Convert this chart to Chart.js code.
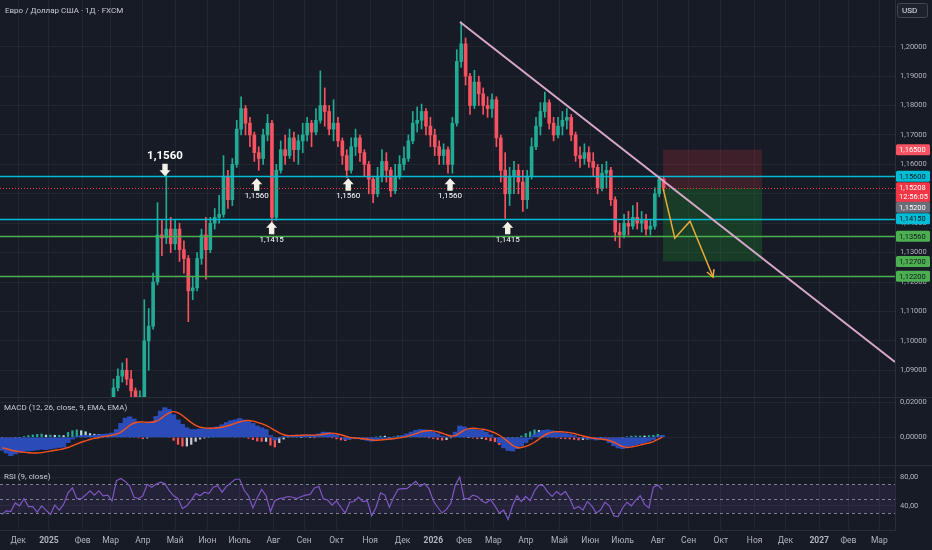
<!DOCTYPE html>
<html lang="ru">
<head>
<meta charset="utf-8">
<title>EUR/USD 1D</title>
<script src="https://cdn.jsdelivr.net/npm/chart.js@4.4.1/dist/chart.umd.min.js"></script>
<style>
html,body{margin:0;padding:0;width:932px;height:550px;overflow:hidden;background:#171b26}
canvas{position:absolute;left:0;display:block}
.sep{position:absolute;left:0;width:932px;height:1px;background:#2a2e39}
</style>
</head>
<body>
<canvas id="mainPane" width="932" height="397" style="top:0"></canvas>
<div class="sep" style="top:397px"></div>
<canvas id="macdPane" width="932" height="67" style="top:398px"></canvas>
<div class="sep" style="top:465px"></div>
<canvas id="rsiPane" width="932" height="84" style="top:466px"></canvas>
<script>
// ================= DATA =================
// candles: one candle every 3 trading days, first at trading-day 76
const firstCandleDay = 76;
const candleStep = 3;
const firstOpen = 1.0810;
const candleClose = [
 1.0840,1.0880,1.0900,1.0870,1.0830,1.0800,1.0810,1.1000,1.1050,1.1200,
 1.1360,1.1350,1.1380,1.1330,1.1380,1.1310,1.1280,1.1170,1.1180,1.1280,
 1.1360,1.1310,1.1400,1.1420,1.1430,1.1560,1.1480,1.1600,1.1720,1.1790,
 1.1740,1.1700,1.1640,1.1620,1.1700,1.1740,1.1420,1.1580,1.1650,1.1630,
 1.1690,1.1650,1.1680,1.1700,1.1740,1.1710,1.1750,1.1800,1.1780,1.1720,
 1.1740,1.1680,1.1630,1.1580,1.1660,1.1690,1.1640,1.1600,1.1550,1.1500,
 1.1560,1.1610,1.1580,1.1510,1.1560,1.1600,1.1620,1.1680,1.1740,1.1750,
 1.1780,1.1730,1.1700,1.1660,1.1630,1.1650,1.1600,1.1740,1.1950,1.2010,
 1.1900,1.1800,1.1880,1.1840,1.1800,1.1790,1.1820,1.1690,1.1580,1.1500,
 1.1560,1.1580,1.1540,1.1480,1.1560,1.1660,1.1730,1.1780,1.1810,1.1740,
 1.1700,1.1730,1.1750,1.1760,1.1700,1.1630,1.1620,1.1640,1.1610,1.1590,
 1.1520,1.1570,1.1580,1.1480,1.1370,1.1360,1.1400,1.1390,1.1420,1.1400,
 1.1410,1.1380,1.1390,1.1500,1.1550,1.15208];
const candleHigh = [
 1.0870,1.0905,1.0925,1.0940,1.0900,1.0840,1.0830,1.1140,1.1110,1.1230,
 1.1470,1.1410,1.1573,1.1420,1.1410,1.1400,1.1340,1.1290,1.1220,1.1300,
 1.1380,1.1420,1.1420,1.1450,1.1495,1.1630,1.1580,1.1620,1.1750,1.1830,
 1.1800,1.1760,1.1710,1.1660,1.1720,1.1770,1.1750,1.1600,1.1680,1.1700,
 1.1720,1.1710,1.1700,1.1740,1.1760,1.1750,1.1790,1.1918,1.1860,1.1800,
 1.1820,1.1760,1.1690,1.1650,1.1690,1.1720,1.1700,1.1650,1.1610,1.1560,
 1.1590,1.1650,1.1640,1.1590,1.1600,1.1630,1.1660,1.1700,1.1780,1.1795,
 1.1805,1.1790,1.1760,1.1720,1.1680,1.1670,1.1660,1.1760,1.1990,1.2085,
 1.2030,1.1910,1.1920,1.1900,1.1860,1.1830,1.1840,1.1830,1.1700,1.1640,
 1.1590,1.1610,1.1600,1.1580,1.1580,1.1690,1.1760,1.1810,1.1846,1.1820,
 1.1760,1.1760,1.1780,1.1790,1.1770,1.1710,1.1660,1.1670,1.1660,1.1640,
 1.1600,1.1600,1.1610,1.1590,1.1490,1.1400,1.1430,1.1440,1.1460,1.1470,
 1.1440,1.1430,1.1410,1.1520,1.1560,1.1560];
const candleLow = [
 1.0805,1.0830,1.0860,1.0850,1.0810,1.0780,1.0770,1.0800,1.0900,1.1040,
 1.1190,1.1290,1.1330,1.1300,1.1310,1.1270,1.1230,1.1065,1.1140,1.1170,
 1.1260,1.1210,1.1300,1.1380,1.1400,1.1420,1.1450,1.1460,1.1590,1.1700,
 1.1700,1.1660,1.1610,1.1580,1.1600,1.1680,1.1400,1.1410,1.1570,1.1600,
 1.1620,1.1610,1.1600,1.1640,1.1680,1.1660,1.1700,1.1740,1.1730,1.1700,
 1.1680,1.1660,1.1600,1.1555,1.1570,1.1630,1.1610,1.1560,1.1500,1.1470,
 1.1490,1.1540,1.1540,1.1490,1.1500,1.1550,1.1580,1.1610,1.1670,1.1710,
 1.1720,1.1700,1.1660,1.1630,1.1600,1.1600,1.1570,1.1570,1.1730,1.1930,
 1.1870,1.1770,1.1790,1.1800,1.1770,1.1760,1.1760,1.1660,1.1540,1.1416,
 1.1460,1.1500,1.1500,1.1440,1.1450,1.1550,1.1650,1.1700,1.1760,1.1720,
 1.1680,1.1690,1.1700,1.1720,1.1680,1.1610,1.1590,1.1600,1.1590,1.1560,
 1.1500,1.1510,1.1520,1.1460,1.1340,1.1317,1.1350,1.1360,1.1380,1.1380,
 1.1370,1.1360,1.1360,1.1380,1.1490,1.1510];

// indicators: one value every 3 trading days from trading-day 0
const indicatorFirstDay = 0;
const indicatorStep = 3;
const macdLine = [
 -0.0075,-0.0090,-0.0105,-0.0095,-0.0085,-0.0080,-0.0078,-0.0075,-0.0072,-0.0068,
 -0.0070,-0.0066,-0.0062,-0.0058,-0.0055,-0.0030,-0.0010,0.0005,0.0010,0.0012,
 0.0010,0.0012,0.0015,0.0018,0.0020,0.0025,0.0045,0.0080,0.0110,0.0118,
 0.0105,0.0085,0.0080,0.0082,0.0090,0.0120,0.0150,0.0170,0.0160,0.0130,
 0.0100,0.0075,0.0055,0.0045,0.0045,0.0048,0.0050,0.0052,0.0055,0.0060,
 0.0072,0.0085,0.0095,0.0100,0.0108,0.0100,0.0090,0.0080,0.0065,0.0055,
 0.0045,0.0010,-0.0015,-0.0005,0.0005,0.0010,0.0012,0.0013,0.0012,0.0015,
 0.0013,0.0012,0.0020,0.0030,0.0028,0.0022,0.0012,0.0000,-0.0012,-0.0010,
 -0.0005,-0.0008,-0.0012,-0.0018,-0.0022,-0.0015,-0.0008,-0.0005,-0.0010,-0.0005,
 0.0005,0.0010,0.0020,0.0030,0.0040,0.0045,0.0043,0.0038,0.0030,0.0020,
 0.0008,0.0002,0.0005,0.0030,0.0065,0.0060,0.0050,0.0048,0.0042,0.0040,
 0.0030,0.0015,0.0000,-0.0030,-0.0060,-0.0075,-0.0078,-0.0065,-0.0050,-0.0030,
 -0.0010,0.0015,0.0030,0.0040,0.0043,0.0038,0.0030,0.0025,0.0022,0.0018,
 0.0010,0.0000,-0.0005,-0.0008,-0.0010,-0.0015,-0.0012,-0.0015,-0.0030,-0.0048,
 -0.0060,-0.0065,-0.0055,-0.0048,-0.0042,-0.0036,-0.0030,-0.0022,-0.0012,0.0005,
 0.0012];
const macdSignal = [
 -0.0060,-0.0065,-0.0072,-0.0078,-0.0082,-0.0085,-0.0088,-0.0089,-0.0089,-0.0087,
 -0.0083,-0.0079,-0.0074,-0.0070,-0.0065,-0.0058,-0.0048,-0.0038,-0.0028,-0.0020,
 -0.0012,-0.0006,-0.0002,0.0004,0.0008,0.0012,0.0018,0.0030,0.0048,0.0068,
 0.0082,0.0088,0.0088,0.0086,0.0086,0.0092,0.0105,0.0125,0.0140,0.0147,
 0.0140,0.0125,0.0105,0.0085,0.0068,0.0058,0.0054,0.0052,0.0053,0.0055,
 0.0058,0.0064,0.0072,0.0080,0.0088,0.0094,0.0096,0.0093,0.0086,0.0078,
 0.0068,0.0055,0.0040,0.0025,0.0015,0.0010,0.0010,0.0011,0.0012,0.0013,
 0.0013,0.0013,0.0014,0.0018,0.0022,0.0024,0.0021,0.0015,0.0007,0.0000,
 -0.0004,-0.0006,-0.0008,-0.0011,-0.0015,-0.0017,-0.0015,-0.0012,-0.0010,-0.0008,
 -0.0004,0.0000,0.0006,0.0013,0.0021,0.0030,0.0036,0.0039,0.0037,0.0032,
 0.0024,0.0015,0.0008,0.0010,0.0025,0.0040,0.0050,0.0052,0.0050,0.0047,
 0.0043,0.0035,0.0025,0.0012,-0.0005,-0.0025,-0.0045,-0.0058,-0.0058,-0.0052,
 -0.0042,-0.0028,-0.0010,0.0008,0.0022,0.0030,0.0033,0.0032,0.0030,0.0027,
 0.0022,0.0015,0.0008,0.0002,-0.0003,-0.0007,-0.0010,-0.0012,-0.0018,-0.0028,
 -0.0040,-0.0052,-0.0058,-0.0055,-0.0050,-0.0044,-0.0038,-0.0032,-0.0024,-0.0012,
 0.0002];
const rsiValues = [
 28,33,32,44,40,50,39,39,31,40,
 34,28,41,34,42,58,65,50,50,55,
 61,55,61,54,55,47,75,78,74,68,
 52,50,54,70,66,70,73,71,61,54,
 50,36,40,48,57,54,59,57,66,68,
 59,67,72,77,77,62,54,37,51,63,
 54,32,47,50,51,53,52,50,53,55,
 56,65,67,50,48,41,47,38,30,45,
 46,52,46,47,26,38,58,55,38,52,
 63,64,64,69,74,67,71,64,47,38,
 30,35,44,69,80,50,50,55,53,47,
 44,49,40,30,34,21,40,54,46,53,
 47,61,69,68,59,53,60,55,60,50,
 36,39,34,46,40,30,34,45,40,26,
 25,37,45,40,48,54,42,37,66,69,
 63];

// time axis (trading-day index of each month start)
const monthTickDays = [11,32,55,74,96,118,140,162,185,206,228,251,273,294,315,335,357,380,401,423,447,468,490,513,534,557,577,598];
const monthTickLabels = ['Дек','2025','Фев','Мар','Апр','Май','Июн','Июль','Авг','Сен','Окт','Ноя','Дек','2026','Фев','Мар','Апр','Май','Июн','Июль','Авг','Сен','Окт','Ноя','Дек','2027','Фев','Мар'];
const priceTicks = [1.09,1.10,1.11,1.12,1.13,1.14,1.15,1.16,1.17,1.18,1.19,1.20];
const macdTicks = [0, 0.02];
const rsiTicks = [40, 80];
const rsiBandLevels = [30, 50, 70];

// drawings
const levelPrices = [1.1560, 1.1415, 1.1356, 1.1220];
const levelKinds = ['cyan', 'cyan', 'green', 'green'];
const lastPrice = 1.15208;
const lastPriceTime = '12:56:05';
const stopPrice = 1.1650, entryPrice = 1.1520, targetPrice = 1.1270;
const positionDays = [450.6, 518.1];
const trendDays = [312.2, 608.7];
const trendPrices = [1.2084, 1.0928];
const pathDays = [450.6, 458.6, 469.0, 484.7];
const pathPrices = [1.1519, 1.1349, 1.1407, 1.1217];
const markerDays = [111.1, 173.6, 183.8, 236.0, 305.4, 344.7];
const markerPrices = [1.1560, 1.1553, 1.1405, 1.1553, 1.1553, 1.1405];
const markerDirs = ['down', 'up', 'up', 'up', 'up', 'up'];
const markerTexts = ['1,1560', '1,1560', '1,1415', '1,1560', '1,1560', '1,1415'];
const tagPrices = [1.1650, 1.1560, 1.1415, 1.1356, 1.1270, 1.1220];
const tagKinds = ['stop', 'cyan', 'cyan', 'green', 'green', 'green'];

// ================= STYLE =================
const FONT = 'Roboto, "Noto Sans", sans-serif';
const GRID = 'rgba(42,46,57,0.6)';
const TXT = '#b2b5be';
const UP = '#22ab94', DN = '#f7525f';
const CYAN = '#00bcd4', GREEN = '#4caf50';
const X_MIN = -1.36, X_MAX = 608.7;
const fmtPrice = v => v.toFixed(5).replace('.', ',');
const fmt2 = v => v.toFixed(2).replace('.', ',');

function xScale(showLabels) {
  return {
    type: 'linear', min: X_MIN, max: X_MAX, offset: false,
    afterBuildTicks: s => { s.ticks = monthTickDays.map(v => ({ value: v })); },
    afterFit: s => { s.height = showLabels ? 20 : 0; s.paddingLeft = 0; s.paddingRight = 0; },
    grid: { color: GRID, drawTicks: false, offset: false },
    border: { display: showLabels, color: '#2a2e39' },
    ticks: {
      display: showLabels, autoSkip: false, maxRotation: 0, minRotation: 0, padding: 6, color: TXT,
      font: c => ({ family: FONT, size: 8.5, weight: /^\d{4}$/.test(monthTickLabels[c.index] || '') ? 'bold' : 'normal' }),
      callback: (v, i) => monthTickLabels[i]
    }
  };
}
function yScale(min, max, ticks, fmt) {
  return {
    type: 'linear', position: 'right', min: min, max: max,
    afterBuildTicks: s => { s.ticks = ticks.map(v => ({ value: v })); },
    afterFit: s => { s.width = 37; s.paddingTop = 0; s.paddingBottom = 0; },
    grid: { color: GRID, drawTicks: false },
    border: { display: true, color: '#2a2e39' },
    ticks: { color: TXT, padding: 5, font: { family: FONT, size: 7.5 }, callback: v => fmt(v) }
  };
}
function baseOptions(yOpts, showX) {
  return {
    responsive: false, animation: false, events: [],
    layout: { padding: 0 },
    plugins: { legend: { display: false }, tooltip: { enabled: false } },
    scales: { x: xScale(showX), y: yOpts }
  };
}
function clipArea(ctx, a) { ctx.beginPath(); ctx.rect(a.left, a.top, a.width, a.height); ctx.clip(); }
function rrect(ctx, x, y, w, h, r) {
  ctx.beginPath();
  if (ctx.roundRect) ctx.roundRect(x, y, w, h, r); else ctx.rect(x, y, w, h);
}

// ================= MAIN PANE =================
const candleDays = candleClose.map((_, i) => firstCandleDay + i * candleStep);
const candleOpen = candleClose.map((c, i) => i === 0 ? firstOpen : candleClose[i - 1]);
const candleColor = candleClose.map((c, i) => c >= candleOpen[i] ? UP : DN);

function drawMarker(ctx, px, py, dir, text) {
  const s = dir === 'up' ? 1 : -1;
  const hw = 5.5, hh = 6, sw = 2.7, sl = 6.5;
  ctx.fillStyle = '#f3f1e6';
  ctx.beginPath();
  ctx.moveTo(px, py);
  ctx.lineTo(px + hw, py + s * hh);
  ctx.lineTo(px + sw, py + s * hh);
  ctx.lineTo(px + sw, py + s * (hh + sl));
  ctx.lineTo(px - sw, py + s * (hh + sl));
  ctx.lineTo(px - sw, py + s * hh);
  ctx.lineTo(px - hw, py + s * hh);
  ctx.closePath();
  ctx.fill();
  ctx.fillStyle = '#ffffff';
  ctx.textAlign = 'center';
  ctx.textBaseline = 'middle';
  if (dir === 'up') {
    ctx.font = '8px ' + FONT;
    ctx.fillText(text, px, py + 18);
  } else {
    ctx.font = 'bold 11.5px ' + FONT;
    ctx.fillText(text, px, py - 20);
  }
}

const mainOverlay = {
  id: 'mainOverlay',
  beforeDatasetsDraw(chart) {
    const { ctx, chartArea: a, scales: { x, y } } = chart;
    ctx.save(); clipArea(ctx, a);
    const x0 = x.getPixelForValue(positionDays[0]), x1 = x.getPixelForValue(positionDays[1]);
    const ys = y.getPixelForValue(stopPrice), ye = y.getPixelForValue(entryPrice), yt = y.getPixelForValue(targetPrice);
    ctx.fillStyle = 'rgba(242,54,69,0.18)';
    ctx.fillRect(x0, ys, x1 - x0, ye - ys);
    ctx.fillStyle = 'rgba(30,140,40,0.30)';
    ctx.fillRect(x0, ye, x1 - x0, yt - ye);
    ctx.restore();
  },
  afterDatasetsDraw(chart) {
    const { ctx, chartArea: a, scales: { x, y } } = chart;
    ctx.save(); clipArea(ctx, a);
    levelPrices.forEach((p, i) => {
      const py = Math.round(y.getPixelForValue(p)) + 0.5;
      ctx.strokeStyle = levelKinds[i] === 'cyan' ? CYAN : GREEN;
      ctx.lineWidth = 1.6;
      ctx.beginPath(); ctx.moveTo(a.left, py); ctx.lineTo(a.right, py); ctx.stroke();
    });
    const lp = Math.round(y.getPixelForValue(lastPrice)) + 0.5;
    ctx.setLineDash([1, 2]); ctx.strokeStyle = '#f23645'; ctx.lineWidth = 1;
    ctx.beginPath(); ctx.moveTo(a.left, lp); ctx.lineTo(a.right, lp); ctx.stroke();
    ctx.setLineDash([]);
    ctx.strokeStyle = '#d7a8cb'; ctx.lineWidth = 2;
    ctx.beginPath();
    ctx.moveTo(x.getPixelForValue(trendDays[0]), y.getPixelForValue(trendPrices[0]));
    ctx.lineTo(x.getPixelForValue(trendDays[1]), y.getPixelForValue(trendPrices[1]));
    ctx.stroke();
    ctx.strokeStyle = '#eaa93a'; ctx.lineWidth = 1.5;
    ctx.beginPath();
    pathDays.forEach((d, i) => {
      const px = x.getPixelForValue(d), py = y.getPixelForValue(pathPrices[i]);
      if (i === 0) ctx.moveTo(px, py); else ctx.lineTo(px, py);
    });
    ctx.stroke();
    const n = pathDays.length;
    const ex = x.getPixelForValue(pathDays[n - 1]), ey = y.getPixelForValue(pathPrices[n - 1]);
    const bx = x.getPixelForValue(pathDays[n - 2]), by = y.getPixelForValue(pathPrices[n - 2]);
    const ang = Math.atan2(ey - by, ex - bx);
    ctx.beginPath();
    ctx.moveTo(ex - 8 * Math.cos(ang - 0.5), ey - 8 * Math.sin(ang - 0.5));
    ctx.lineTo(ex, ey);
    ctx.lineTo(ex - 8 * Math.cos(ang + 0.5), ey - 8 * Math.sin(ang + 0.5));
    ctx.stroke();
    markerDays.forEach((d, i) => {
      drawMarker(ctx, x.getPixelForValue(d), y.getPixelForValue(markerPrices[i]), markerDirs[i], markerTexts[i]);
    });
    ctx.restore();
  },
  afterDraw(chart) {
    const { ctx, scales: { y } } = chart;
    const ax = y.left;
    ctx.save();
    const tag = (cy, h, bg, fg, lines) => {
      ctx.fillStyle = bg;
      rrect(ctx, ax + 1, cy - h / 2, 34, h, 1.5); ctx.fill();
      ctx.fillStyle = fg; ctx.font = '7.5px ' + FONT;
      ctx.textAlign = 'left'; ctx.textBaseline = 'middle';
      lines.forEach((t, j) => ctx.fillText(t, ax + 4, cy - (lines.length - 1) * 4.5 + j * 9 + 0.5, 29));
    };
    tagPrices.forEach((p, i) => {
      const k = tagKinds[i];
      const bg = k === 'stop' ? '#f7525f' : (k === 'cyan' ? CYAN : GREEN);
      const fg = k === 'stop' ? '#ffffff' : '#131722';
      tag(y.getPixelForValue(p), 11, bg, fg, [fmtPrice(p)]);
    });
    const ly = y.getPixelForValue(lastPrice);
    tag(ly + 4.5, 20, '#f23645', '#ffffff', [fmtPrice(lastPrice), lastPriceTime]);
    tag(ly + 19.5, 11, '#6a6d78', '#ffffff', [fmtPrice(entryPrice)]);
    ctx.fillStyle = '#1e222d'; ctx.strokeStyle = '#434651'; ctx.lineWidth = 1;
    rrect(ctx, ax + 2.5, 3.5, 30, 14, 2); ctx.fill(); ctx.stroke();
    ctx.fillStyle = '#e0e3eb'; ctx.font = '8px ' + FONT; ctx.textAlign = 'left'; ctx.textBaseline = 'middle';
    ctx.fillText('USD', ax + 7, 11);
    ctx.fillStyle = '#c9ccd4'; ctx.font = '8px ' + FONT;
    ctx.fillText('Евро / Доллар США · 1Д · FXCM', 5, 10.5);
    ctx.restore();
  }
};

new Chart(document.getElementById('mainPane'), {
  type: 'bar',
  data: {
    datasets: [
      { data: candleDays.map((d, i) => ({ x: d, y: [candleLow[i], candleHigh[i]] })), backgroundColor: candleColor, barThickness: 1, grouped: false, order: 2 },
      { data: candleDays.map((d, i) => ({ x: d, y: [candleOpen[i], candleClose[i]] })), backgroundColor: candleColor, barThickness: 3, minBarLength: 1, grouped: false, order: 1 }
    ]
  },
  options: baseOptions(yScale(1.0809, 1.2159, priceTicks, fmtPrice), false),
  plugins: [mainOverlay]
});

// ================= MACD PANE =================
const indicatorDays = macdLine.map((_, i) => indicatorFirstDay + i * indicatorStep);
const macdHist = macdLine.map((m, i) => m - macdSignal[i]);
const histColor = macdHist.map((h, i) => {
  const prev = i ? macdHist[i - 1] : h;
  return h >= 0 ? (h >= prev ? '#26a69a' : '#b2dfdb') : (h < prev ? '#ff5252' : '#c9c9d0');
});
const macdTitle = {
  id: 'macdTitle',
  afterDraw(chart) {
    const { ctx } = chart;
    ctx.save(); ctx.fillStyle = '#c9ccd4'; ctx.font = '8px ' + FONT; ctx.textBaseline = 'middle'; ctx.textAlign = 'left';
    ctx.fillText('MACD (12, 26, close, 9, EMA, EMA)', 4, 10);
    ctx.restore();
  }
};
new Chart(document.getElementById('macdPane'), {
  type: 'bar',
  data: {
    datasets: [
      { type: 'line', data: indicatorDays.map((d, i) => ({ x: d, y: macdSignal[i] })), borderColor: '#f4511e', borderWidth: 1.4, pointRadius: 0, tension: 0.3, order: 0 },
      { data: indicatorDays.map((d, i) => ({ x: d, y: macdLine[i] })), backgroundColor: '#2b4cb8', barThickness: 4.5, grouped: false, order: 1 },
      { data: indicatorDays.map((d, i) => ({ x: d, y: macdHist[i] })), backgroundColor: histColor, barThickness: 1.6, grouped: false, order: 2 }
    ]
  },
  options: baseOptions(yScale(-0.0158, 0.0225, macdTicks, fmtPrice), false),
  plugins: [macdTitle]
});

// ================= RSI PANE =================
const rsiOverlay = {
  id: 'rsiOverlay',
  beforeDatasetsDraw(chart) {
    const { ctx, chartArea: a, scales: { y } } = chart;
    ctx.save(); clipArea(ctx, a);
    const yTop = y.getPixelForValue(rsiBandLevels[2]), yBot = y.getPixelForValue(rsiBandLevels[0]);
    ctx.fillStyle = 'rgba(126,87,194,0.12)';
    ctx.fillRect(a.left, yTop, a.width, yBot - yTop);
    ctx.strokeStyle = 'rgba(150,153,163,0.8)'; ctx.lineWidth = 1; ctx.setLineDash([3, 3]);
    rsiBandLevels.forEach(v => {
      const py = Math.round(y.getPixelForValue(v)) + 0.5;
      ctx.beginPath(); ctx.moveTo(a.left, py); ctx.lineTo(a.right, py); ctx.stroke();
    });
    ctx.restore();
  },
  afterDraw(chart) {
    const { ctx } = chart;
    ctx.save(); ctx.fillStyle = '#c9ccd4'; ctx.font = '8px ' + FONT; ctx.textBaseline = 'middle'; ctx.textAlign = 'left';
    ctx.fillText('RSI (9, close)', 4, 11);
    ctx.restore();
  }
};
new Chart(document.getElementById('rsiPane'), {
  type: 'line',
  data: {
    datasets: [
      { data: indicatorDays.map((d, i) => ({ x: d, y: rsiValues[i] })), borderColor: '#7e57c2', borderWidth: 1.2, pointRadius: 0, tension: 0 }
    ]
  },
  options: baseOptions(yScale(6.3, 95.5, rsiTicks, fmt2), true),
  plugins: [rsiOverlay]
});
</script>
</body>
</html>
